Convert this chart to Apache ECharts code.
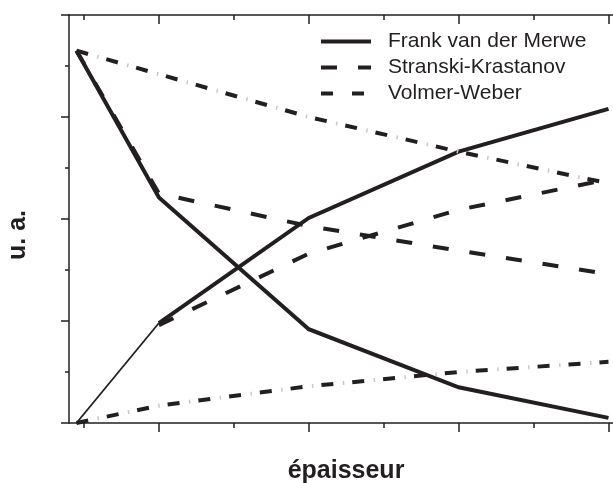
<!DOCTYPE html>
<html>
<head>
<meta charset="utf-8">
<script src="https://cdn.jsdelivr.net/npm/echarts@6/dist/echarts.min.js"></script>
<style>
  html, body { margin: 0; padding: 0; background: #fff; }
  #chart { width: 613px; height: 483px; }
</style>
</head>
<body>
<div id="chart"></div>
<script>
  // thickness steps (x) and signal values (u. a.)
  const thickness = [0.45, 1, 2, 3, 4];
  const fmDecrease = [3.65, 2.21, 0.92, 0.35, 0.05];
  const fmIncrease = [0, 0.98, 2.01, 2.66, 3.08];
  const skDecrease = [3.65, 2.25, 1.93, 1.69, 1.46];
  const skIncrease = [0, 0.96, 1.66, 2.09, 2.39];
  const vwDecrease = [3.65, 3.42, 3.0, 2.66, 2.35];
  const vwIncrease = [0, 0.17, 0.36, 0.5, 0.6];
  const majorTicks = [1, 2, 3, 4];
  const minorTicks = [0.5, 1.5, 2.5, 3.5];

  const INK = "#231f20";
  const FM = "Frank van der Merwe";
  const SK = "Stranski-Krastanov";
  const VW = "Volmer-Weber";

  const pairs = (ys, from, to) =>
    thickness.map((x, i) => (i < from || i > to ? [x, "-"] : [x, ys[i]]));

  function line(name, data, width, dash, color, offset) {
    return {
      name,
      type: "line",
      data,
      symbol: "none",
      silent: true,
      animation: false,
      lineStyle: {
        color: color || INK,
        width,
        type: dash || "solid",
        dashOffset: offset || 0,
        cap: "butt",
        join: "miter",
      },
      itemStyle: { color: INK },
    };
  }

  const skDash = [16, 21];
  const vwDash = [12, 19];
  // faint grey dot sitting in the middle of each dash-dot gap
  const vwDot = [1.5, 29.5];
  const vwDotOffset = 9.5;

  const axisLineStyle = { color: INK, width: 1.5 };

  function xAxis(position, ticks, len, withLine) {
    return {
      type: "value",
      position,
      min: 0.4,
      max: 4.03,
      axisLine: { show: withLine, onZero: false, lineStyle: axisLineStyle },
      axisTick: { show: true, customValues: ticks, length: len, inside: position === "top", lineStyle: axisLineStyle },
      axisLabel: { show: false },
      splitLine: { show: false },
    };
  }

  const chart = echarts.init(document.getElementById("chart"), null, { renderer: "canvas" });
  chart.setOption({
    animation: false,
    grid: { left: 69, right: 0, top: 15, bottom: 60 },
    xAxis: [
      xAxis("bottom", majorTicks, 9, true),
      xAxis("bottom", minorTicks, 5, false),
      xAxis("top", majorTicks, 9, true),
      xAxis("top", minorTicks, 5, false),
    ],
    yAxis: {
      type: "value",
      min: 0,
      max: 4,
      interval: 1,
      axisLine: { show: true, lineStyle: axisLineStyle },
      axisTick: { show: true, length: 8, lineStyle: axisLineStyle },
      minorTick: { show: true, splitNumber: 2, length: 4, lineStyle: axisLineStyle },
      axisLabel: { show: false },
      splitLine: { show: false },
    },
    legend: {
      left: 314,
      top: 26,
      orient: "vertical",
      itemWidth: 50,
      itemHeight: 14,
      itemGap: 5,
      data: [FM, SK, VW],
      itemStyle: { opacity: 0 },
      lineStyle: { width: 4 },
      textStyle: {
        color: INK,
        fontFamily: "Liberation Sans, Arial, sans-serif",
        fontSize: 21,
        lineHeight: 21,
        padding: [0, 0, 0, 12],
      },
    },
    graphic: [
      {
        type: "text",
        x: 346,
        y: 471,
        style: {
          text: "épaisseur",
          fill: INK,
          font: "bold 25px Liberation Sans, Arial, sans-serif",
          align: "center",
          verticalAlign: "middle",
        },
      },
      {
        type: "text",
        x: 18,
        y: 235,
        rotation: Math.PI / 2,
        style: {
          text: "u. a.",
          fill: INK,
          font: "bold 25px Liberation Sans, Arial, sans-serif",
          align: "center",
          verticalAlign: "middle",
        },
      },
    ],
    series: [
      line(FM, pairs(fmDecrease, 0, 4), 4),
      line(FM, pairs(fmIncrease, 1, 4), 4),
      line(FM, pairs(fmIncrease, 0, 1), 1.8),
      line(SK, pairs(skDecrease, 0, 4), 4, skDash),
      line(SK, pairs(skIncrease, 1, 4), 4, skDash),
      line(VW, pairs(vwDecrease, 0, 4), 4, vwDash),
      line(VW, pairs(vwIncrease, 0, 4), 4, vwDash),
      line(VW, pairs(vwDecrease, 0, 4), 4, vwDot, "#c8c8c8", vwDotOffset),
      line(VW, pairs(vwIncrease, 0, 4), 4, vwDot, "#c8c8c8", vwDotOffset),
    ],
  });
</script>
</body>
</html>
